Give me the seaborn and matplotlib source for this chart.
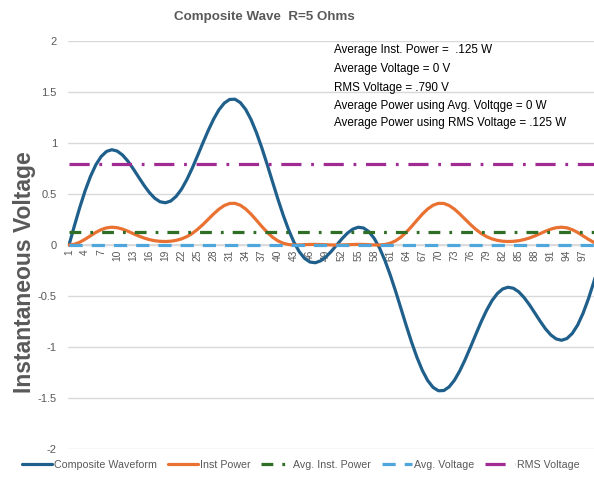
import matplotlib
matplotlib.use("Agg")
import matplotlib.pyplot as plt
import seaborn as sns
import pandas as pd

categories = list(range(1, 101))

composite_waveform = [
    0.000, 0.187, 0.366, 0.530, 0.671, 0.785, 0.867, 0.917, 0.934, 0.921,
    0.882, 0.822, 0.747, 0.666, 0.586, 0.515, 0.459, 0.424, 0.414, 0.431,
    0.476, 0.546, 0.640, 0.751, 0.874, 1.000, 1.122, 1.233, 1.325, 1.391,
    1.427, 1.429, 1.396, 1.329, 1.230, 1.103, 0.955, 0.792, 0.622, 0.453,
    0.294, 0.151, 0.029, -0.065, -0.131, -0.167, -0.174, -0.155, -0.116, -0.062,
    0.000, 0.062, 0.116, 0.155, 0.174, 0.167, 0.131, 0.065, -0.029, -0.151,
    -0.294, -0.453, -0.622, -0.792, -0.955, -1.103, -1.230, -1.329, -1.396, -1.429,
    -1.427, -1.391, -1.325, -1.233, -1.122, -1.000, -0.874, -0.751, -0.640, -0.546,
    -0.476, -0.431, -0.414, -0.424, -0.459, -0.515, -0.586, -0.666, -0.747, -0.822,
    -0.882, -0.921, -0.934, -0.917, -0.867, -0.785, -0.671, -0.530, -0.366, -0.187,
]

inst_power = [
    0.0000, 0.0070, 0.0268, 0.0562, 0.0900, 0.1232, 0.1503, 0.1682, 0.1745, 0.1696,
    0.1556, 0.1351, 0.1116, 0.0887, 0.0687, 0.0530, 0.0421, 0.0360, 0.0343, 0.0372,
    0.0453, 0.0596, 0.0819, 0.1128, 0.1528, 0.2000, 0.2518, 0.3041, 0.3511, 0.3870,
    0.4073, 0.4084, 0.3898, 0.3532, 0.3026, 0.2433, 0.1824, 0.1255, 0.0774, 0.0410,
    0.0173, 0.0046, 0.0002, 0.0008, 0.0034, 0.0056, 0.0061, 0.0048, 0.0027, 0.0008,
    0.0000, 0.0008, 0.0027, 0.0048, 0.0061, 0.0056, 0.0034, 0.0008, 0.0002, 0.0046,
    0.0173, 0.0410, 0.0774, 0.1255, 0.1824, 0.2433, 0.3026, 0.3532, 0.3898, 0.4084,
    0.4073, 0.3870, 0.3511, 0.3041, 0.2518, 0.2000, 0.1528, 0.1128, 0.0819, 0.0596,
    0.0453, 0.0372, 0.0343, 0.0360, 0.0421, 0.0530, 0.0687, 0.0887, 0.1116, 0.1351,
    0.1556, 0.1696, 0.1745, 0.1682, 0.1503, 0.1232, 0.0900, 0.0562, 0.0268, 0.0070,
]

avg_inst_power = [0.125] * 100
avg_voltage = [0.0] * 100
rms_voltage = [0.790] * 100

x_tick_labels = [str(c) for c in range(1, 101, 3)]
y_ticks = [-2, -1.5, -1, -0.5, 0, 0.5, 1, 1.5, 2]
y_tick_labels = ["-2", "-1.5", "-1", "-0.5", "0", "0.5", "1", "1.5", "2"]

annotations = [
    "Average Inst. Power =  .125 W",
    "Average Voltage = 0 V",
    "RMS Voltage = .790 V",
    "Average Power using Avg. Voltqge = 0 W",
    "Average Power using RMS Voltage = .125 W",
]

sns.set_theme(style="white")
FONT = ["Liberation Sans", "DejaVu Sans"]
plt.rcParams["font.family"] = FONT
plt.rcParams["lines.scale_dashes"] = False

GRAY = "#595959"
df = pd.DataFrame({
    "cat": categories,
    "Composite Waveform": composite_waveform,
    "Inst Power": inst_power,
    "Avg. Inst. Power": avg_inst_power,
    "Avg. Voltage": avg_voltage,
    "RMS Voltage": rms_voltage,
})

fig = plt.figure(figsize=(5.94, 4.80), dpi=100)
W, H = 594, 480
left, right, top, bottom = 68, 610, 41, 449
px_per_cat = 5.354
ax = fig.add_axes([left / W, 1 - bottom / H, (right - left) / W, (bottom - top) / H])

styles = [
    ("Composite Waveform", "#1F5F8B", "-", 2.3),
    ("Inst Power", "#E97132", "-", 2.3),
    ("Avg. Inst. Power", "#2F6F25", (0, (8.5, 6.5, 2.0, 6.5)), 2.3),
    ("Avg. Voltage", "#4EA6DC", (0, (9.5, 6.5)), 2.3),
    ("RMS Voltage", "#A02B93", (0, (14.5, 7.0, 2.0, 7.0)), 2.3),
]
for name, color, ls, lw in styles:
    sns.lineplot(data=df, x="cat", y=name, ax=ax, color=color, linestyle=ls,
                 linewidth=lw, label=name, legend=False, zorder=3)

ax.set_xlim(1 - 1 / px_per_cat, 1 + (right - left - 1) / px_per_cat)
ax.set_ylim(-2, 2)
ax.set_yticks(y_ticks)
ax.set_yticklabels(y_tick_labels)
ax.set_xticks(list(range(1, 101, 3)))
ax.set_xticklabels(x_tick_labels)
ax.yaxis.grid(True, color="#D9D9D9", linewidth=1.0)
ax.xaxis.grid(False)
for s in ["top", "right", "left"]:
    ax.spines[s].set_visible(False)
ax.spines["bottom"].set_position(("data", 0))
ax.spines["bottom"].set_color("#D9D9D9")
ax.tick_params(axis="both", length=0, colors=GRAY)
ax.tick_params(axis="y", labelsize=8, pad=8)
ax.tick_params(axis="x", labelsize=7.4, pad=3, labelrotation=90)
ax.set_xlabel("")
ax.set_ylabel("")

fig.text(264 / W, 1 - 17 / H, "Composite Wave  R=5 Ohms", ha="center", va="center",
         fontsize=9.6, fontweight="bold", color=GRAY, family=FONT)
fig.text(24 / W, 1 - 272 / H, "Instantaneous Voltage", ha="center", va="center",
         rotation=90, fontsize=16.5, fontweight="bold", color=GRAY, family=FONT)

ys = [50, 69, 88, 106, 123]
for t, y in zip(annotations, ys):
    fig.text(334 / W, 1 - y / H, t, ha="left", va="center", fontsize=8.4,
             color="black", family=FONT)

handles, labels = ax.get_legend_handles_labels()
leg = fig.legend(handles, labels, loc="center", bbox_to_anchor=(301 / W, 1 - 465 / H),
                 ncol=5, frameon=False, fontsize=7.7, handlelength=2.8,
                 columnspacing=1.0, handletextpad=0.2)
for txt in leg.get_texts():
    txt.set_color(GRAY)

fig.savefig("out.png", dpi=100)
